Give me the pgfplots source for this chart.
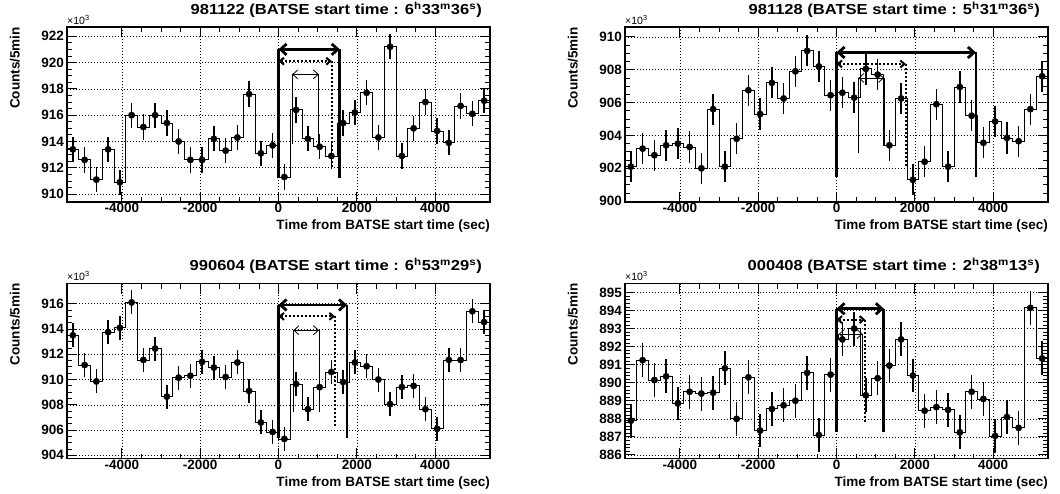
\documentclass[border=0pt]{standalone}
\usepackage{fontspec}
\setmainfont{Liberation Sans}
\newfontfamily\widesans[FakeStretch=1.14]{Liberation Sans}
\usepackage{pgfplots}
\pgfplotsset{compat=1.18}
\usepackage{pgfplotstable}
\usetikzlibrary{arrows.meta}

% Counts per 5 min bin (x10^3), bin centres in s from BATSE start time
\pgfplotstableread{
t c
-5250 913.4
-4950 912.6
-4650 911.1
-4350 913.4
-4050 910.9
-3750 916.0
-3450 915.1
-3150 916.0
-2850 915.4
-2550 914.0
-2250 912.6
-1950 912.6
-1650 914.2
-1350 913.3
-1050 914.3
-750 917.6
-450 913.1
-150 913.7
150 911.3
450 916.4
750 914.2
1050 913.6
1350 912.9
1650 915.4
1950 916.2
2250 917.7
2550 914.3
2850 921.2
3150 912.9
3450 915.0
3750 917.0
4050 914.8
4350 913.9
4650 916.7
4950 916.1
5250 917.1
}\dataA

\pgfplotstableread{
t c
-5250 902.1
-4950 903.2
-4650 902.8
-4350 903.4
-4050 903.5
-3750 903.3
-3450 902.0
-3150 905.6
-2850 902.1
-2550 903.8
-2250 906.75
-1950 905.3
-1650 907.2
-1350 906.25
-1050 907.9
-750 909.15
-450 908.2
-150 906.45
150 906.6
450 906.3
750 908.05
1050 907.7
1350 903.4
1650 906.25
1950 901.3
2250 902.4
2550 905.9
2850 902.1
3150 906.95
3450 905.2
3750 903.55
4050 904.85
4350 903.85
4650 903.65
4950 905.6
5250 907.6
}\dataB

\pgfplotstableread{
t c
-5250 913.5
-4950 911.15
-4650 909.85
-4350 913.75
-4050 914.1
-3750 916.1
-3450 911.55
-3150 912.45
-2850 908.65
-2550 910.15
-2250 910.3
-1950 911.4
-1650 910.95
-1350 910.2
-1050 911.35
-750 909.1
-450 906.6
-150 905.85
150 905.3
450 909.65
750 907.65
1050 909.4
1350 910.6
1650 909.8
1950 911.35
2250 911.05
2550 910.0
2850 908.05
3150 909.4
3450 909.5
3750 907.65
4050 906.1
4350 911.55
4650 911.55
4950 915.4
5250 914.55
}\dataC

\pgfplotstableread{
t c
-5250 887.9
-4950 891.25
-4650 890.15
-4350 890.35
-4050 888.85
-3750 889.5
-3450 889.4
-3150 889.45
-2850 890.8
-2550 888.0
-2250 890.3
-1950 887.35
-1650 888.55
-1350 888.75
-1050 889.0
-750 890.55
-450 887.1
-150 890.45
150 892.4
450 893.0
750 889.3
1050 890.25
1350 890.95
1650 892.4
1950 890.4
2250 888.45
2550 888.65
2850 888.5
3150 887.25
3450 889.5
3750 889.1
4050 887.05
4350 888.1
4650 887.5
4950 894.15
5250 891.35
}\dataD

\newcommand{\lblfont}{\bfseries\fontsize{13.5}{14}\selectfont}
\newcommand{\tickfont}{\bfseries\fontsize{13.5}{14}\selectfont}
\newcommand{\ttlfont}{\widesans\bfseries\fontsize{14.5}{15}\selectfont}

\tikzset{
  thickarr/.style={line width=2.8pt, arrows={Straight Barb[length=6pt,width=11pt]-Straight Barb[length=6pt,width=11pt]}},
  thinarr/.style={line width=0.8pt, arrows={Straight Barb[length=5pt,width=9pt]-Straight Barb[length=5pt,width=9pt]}},
  dotline/.style={line width=2pt, dash pattern=on 2pt off 2pt},
  dotarr/.style={dotline, arrows={Straight Barb[length=4pt,width=7pt]-Straight Barb[length=4pt,width=7pt]}},
}

\pgfplotsset{
  batse/.style={
    scale only axis, width=423pt, height=175pt, anchor=south west,
    clip mode=individual,
    xmin=-5400, xmax=5400,
    xtick={-4000,-2000,0,2000,4000},
    minor x tick num=3,
    tick pos=both, tick align=inside,
    major tick length=10pt, minor tick length=5pt,
    every tick/.style={black, line width=0.8pt},
    grid=major,
    major grid style={black, line width=0.6pt, dash pattern=on 1pt off 2pt},
    axis line style={line width=1.8pt},
    ticklabel style={font=\tickfont},
    /pgf/number format/assume math mode=true,
    /pgf/number format/set thousands separator={},
    xticklabel style={yshift=2pt},
    yticklabel style={xshift=0.5pt},
    xlabel={Time from BATSE start time (sec)},
    xlabel style={at={(rel axis cs:1,-0.158)}, anchor=base east, inner sep=0pt, font=\lblfont},
    ylabel={Counts/5min},
    ylabel style={at={(rel axis cs:-0.123,1)}, anchor=east, inner sep=0pt, font=\lblfont},
    title style={at={(rel axis cs:0.981,1.038)}, anchor=base east, inner sep=0pt, font=\ttlfont},
  },
  hist/.style={black, line width=0.8pt},
  pts/.style={only marks, mark=*, mark size=3.2pt, black,
    error bars/.cd, y dir=both, y fixed=#1, error mark=none,
    error bar style={line width=1.3pt, black}},
}

\newcommand{\xtenthree}{\node[anchor=base west, inner sep=0pt, font=\fontsize{10.5}{11}\selectfont] at (rel axis cs:0,1.017) {×10\textsuperscript{3}};}

\begin{document}
\begin{tikzpicture}
\useasboundingbox (0pt,0pt) rectangle (1060pt,493pt);

% 981122
\begin{axis}[batse, at={(67pt,291pt)}, ymin=909.4, ymax=922.7,
  ytick={910,912,...,922}, minor y tick num=3,
  title={981122 (BATSE start time : 6\textsuperscript{h}33\textsuperscript{m}36\textsuperscript{s})}]
\addplot[hist, const plot mark left] table[x expr=\thisrow{t}-150, y=c] {\dataA};
\addplot[hist, const plot mark right] table[x expr=\thisrow{t}+150, y=c] {\dataA};
\addplot[line width=2.8pt] coordinates {(0,911.2) (0,921.0)};
\addplot[line width=2.8pt] coordinates {(1565,911.2) (1565,921.0)};
\addplot[thickarr] coordinates {(0,921.0) (1565,921.0)};
\addplot[dotarr] coordinates {(0,920.1) (1360,920.1)};
\addplot[dotline] coordinates {(1360,920.1) (1360,911.95)};
\addplot[line width=0.8pt] coordinates {(350,913.8) (350,919.1)};
\addplot[line width=0.8pt] coordinates {(1030,913.4) (1030,919.1)};
\addplot[thinarr] coordinates {(350,919.1) (1030,919.1)};
\addplot[pts=0.96] table[x=t, y=c] {\dataA};
\xtenthree
\end{axis}

% 981128
\begin{axis}[batse, at={(625pt,291pt)}, ymin=899.95, ymax=910.6,
  ytick={900,902,...,910}, minor y tick num=3,
  title={981128 (BATSE start time : 5\textsuperscript{h}31\textsuperscript{m}36\textsuperscript{s})}]
\addplot[hist, const plot mark left] table[x expr=\thisrow{t}-150, y=c] {\dataB};
\addplot[hist, const plot mark right] table[x expr=\thisrow{t}+150, y=c] {\dataB};
\addplot[line width=2.8pt] coordinates {(0,901.45) (0,909.05)};
\addplot[line width=2.8pt] coordinates {(3560,901.45) (3560,909.05)};
\addplot[thickarr] coordinates {(0,909.05) (3560,909.05)};
\addplot[dotarr] coordinates {(0,908.35) (1770,908.35)};
\addplot[dotline] coordinates {(1770,908.35) (1770,902.15)};
\addplot[line width=0.8pt] coordinates {(560,902.95) (560,907.5)};
\addplot[line width=0.8pt] coordinates {(1215,903.4) (1215,907.5)};
\addplot[thinarr] coordinates {(560,907.5) (1215,907.5)};
\addplot[pts=0.95] table[x=t, y=c] {\dataB};
\xtenthree
\end{axis}

% 990604
\begin{axis}[batse, at={(67pt,34.5pt)}, ymin=903.75, ymax=917.6,
  ytick={904,906,...,916}, minor y tick num=3,
  title={990604 (BATSE start time : 6\textsuperscript{h}53\textsuperscript{m}29\textsuperscript{s})}]
\addplot[hist, const plot mark left] table[x expr=\thisrow{t}-150, y=c] {\dataC};
\addplot[hist, const plot mark right] table[x expr=\thisrow{t}+150, y=c] {\dataC};
\addplot[line width=2.8pt] coordinates {(0,905.35) (0,915.9)};
\addplot[line width=2.8pt] coordinates {(1750,905.35) (1750,915.9)};
\addplot[thickarr] coordinates {(0,915.9) (1750,915.9)};
\addplot[dotarr] coordinates {(0,915.0) (1440,915.0)};
\addplot[dotline] coordinates {(1440,915.0) (1440,906.3)};
\addplot[line width=0.8pt] coordinates {(380,907.4) (380,913.9)};
\addplot[line width=0.8pt] coordinates {(1035,907.45) (1035,913.9)};
\addplot[thinarr] coordinates {(380,913.9) (1035,913.9)};
\addplot[pts=0.95] table[x=t, y=c] {\dataC};
\xtenthree
\end{axis}

% 000408
\begin{axis}[batse, at={(625pt,34.5pt)}, ymin=885.8, ymax=895.5,
  ytick={886,887,...,895}, minor y tick num=4,
  title={000408 (BATSE start time : 2\textsuperscript{h}38\textsuperscript{m}13\textsuperscript{s})}]
\addplot[hist, const plot mark left] table[x expr=\thisrow{t}-150, y=c] {\dataD};
\addplot[hist, const plot mark right] table[x expr=\thisrow{t}+150, y=c] {\dataD};
\addplot[line width=2.8pt] coordinates {(0,887.25) (0,894.1)};
\addplot[line width=2.8pt] coordinates {(1210,887.25) (1210,894.1)};
\addplot[thickarr] coordinates {(0,894.1) (1210,894.1)};
\addplot[dotarr] coordinates {(0,893.5) (730,893.5)};
\addplot[dotline] coordinates {(730,893.5) (730,887.8)};
\addplot[line width=0.8pt] coordinates {(60,892.4) (60,892.7)};
\addplot[line width=0.8pt] coordinates {(665,889.3) (665,892.7)};
\addplot[thinarr] coordinates {(60,892.7) (665,892.7)};
\addplot[pts=0.94] table[x=t, y=c] {\dataD};
\xtenthree
\end{axis}
\end{tikzpicture}
\end{document}
